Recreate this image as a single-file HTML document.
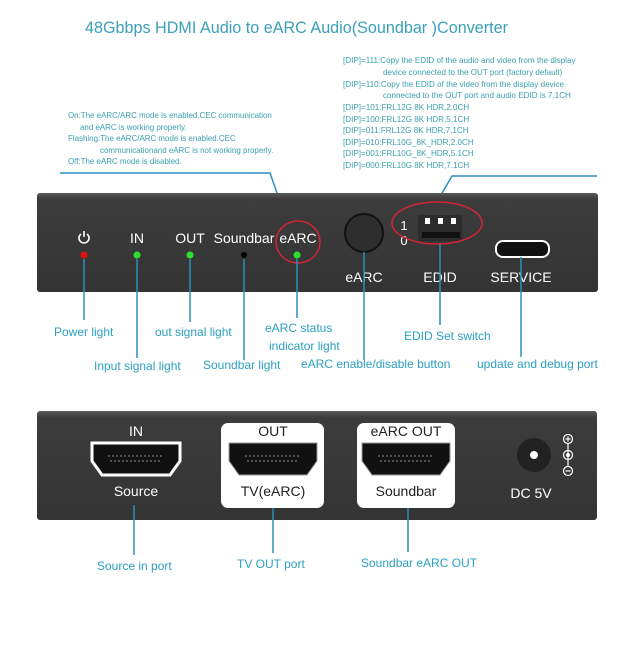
<!DOCTYPE html>
<html><head><meta charset="utf-8"><style>
html,body{margin:0;padding:0;background:#fff}
svg{display:block}
text{font-family:"Liberation Sans",sans-serif}
</style></head><body>
<svg width="640" height="653" viewBox="0 0 640 653" xmlns="http://www.w3.org/2000/svg">
<defs>
<linearGradient id="pg" x1="0" y1="0" x2="0" y2="1"><stop offset="0" stop-color="#5a5a5a"/><stop offset="0.06" stop-color="#3c3c3c"/><stop offset="1" stop-color="#343434"/></linearGradient>
<g id="hdmi"><path d="M-44,-16 H44 V2 L34,16 H-34 L-44,2 Z" fill="#111" stroke="#fff" stroke-width="3"/><line x1="-28" y1="-3" x2="28" y2="-3" stroke="#777" stroke-width="1.2" stroke-dasharray="2,2"/><line x1="-26" y1="2" x2="26" y2="2" stroke="#777" stroke-width="1.2" stroke-dasharray="2,2"/></g>
<g id="hdmi2"><path d="M-44,-16 H44 V2 L34,16 H-34 L-44,2 Z" fill="#111" stroke="#999" stroke-width="1"/><line x1="-28" y1="-3" x2="28" y2="-3" stroke="#777" stroke-width="1.2" stroke-dasharray="2,2"/><line x1="-26" y1="2" x2="26" y2="2" stroke="#777" stroke-width="1.2" stroke-dasharray="2,2"/></g>
</defs>
<text x="85" y="33" font-size="17" fill="#3a9fb8" textLength="423" lengthAdjust="spacingAndGlyphs">48Gbbps HDMI Audio to eARC Audio(Soundbar )Converter</text>
<g font-size="8.1" fill="#3aa0b0">
<text x="343" y="63">[DIP]=111:Copy the EDID of the audio and video from the display</text>
<text x="383" y="75">device connected to the OUT port (factory default)</text>
<text x="343" y="87">[DIP]=110:Copy the EDID of the video from the display device</text>
<text x="383" y="98">connected to the OUT port and audio EDID is 7.1CH</text>
<text x="343" y="110">[DIP]=101:FRL12G 8K HDR,2.0CH</text>
<text x="343" y="122">[DIP]=100:FRL12G 8K HDR,5.1CH</text>
<text x="343" y="133">[DIP]=011:FRL12G 8K HDR,7.1CH</text>
<text x="343" y="145">[DIP]=010:FRL10G_8K_HDR,2.0CH</text>
<text x="343" y="156">[DIP]=001:FRL10G_8K_HDR,5.1CH</text>
<text x="343" y="168">[DIP]=000:FRL10G 8K HDR,7.1CH</text>
</g>
<g font-size="7.95" fill="#3aa0b0">
<text x="68" y="118">On:The eARC/ARC mode is enabled.CEC communication</text>
<text x="80" y="130">and eARC is working properly.</text>
<text x="68" y="141">Flashing:The eARC/ARC mode is enabled.CEC</text>
<text x="100" y="153">communicationand eARC is not working properly.</text>
<text x="68" y="164">Off:The eARC mode is disabled.</text>
</g>
<g stroke="#2a8fbf" stroke-width="1.5" fill="none">
<polyline points="60,173 270,173 290,230"/>
<polyline points="597,176 452,176 435,205"/>
</g>
<rect x="37" y="193" width="561" height="99" rx="3" fill="url(#pg)"/>
<g font-size="14" fill="#fff" text-anchor="middle">
<text x="137" y="243">IN</text><text x="190" y="243">OUT</text><text x="244" y="243">Soundbar</text><text x="298" y="243">eARC</text>
<text x="364" y="282">eARC</text><text x="440" y="282">EDID</text><text x="521" y="282">SERVICE</text>
<text x="404" y="230" font-size="13">1</text><text x="404" y="245" font-size="13">0</text>
</g>
<g stroke="#fff" stroke-width="1.6" fill="none"><path d="M81,234 A5,5 0 1 0 87,234"/><line x1="84" y1="231" x2="84" y2="237"/></g>
<circle cx="84" cy="255" r="3.5" fill="#e01010"/>
<circle cx="137" cy="255" r="3.5" fill="#2ee02e"/>
<circle cx="190" cy="255" r="3.5" fill="#2ee02e"/>
<circle cx="244" cy="255" r="3" fill="#000"/>
<circle cx="297" cy="255" r="3.5" fill="#2ee02e"/>
<ellipse cx="298" cy="242" rx="22" ry="21" fill="none" stroke="#d0253a" stroke-width="1.5"/>
<circle cx="364" cy="233" r="19" fill="#2e2e2e" stroke="#111" stroke-width="2"/>
<rect x="418" y="215" width="44" height="26" fill="#2c2c2c"/>
<rect x="425" y="218" width="5" height="6" fill="#fff"/><rect x="438" y="218" width="5" height="6" fill="#fff"/><rect x="451" y="218" width="5" height="6" fill="#fff"/>
<rect x="422" y="232" width="38" height="6" fill="#111"/>
<ellipse cx="437" cy="223" rx="45" ry="21" fill="none" stroke="#d0253a" stroke-width="1.5"/>
<rect x="496" y="241" width="53" height="16" rx="7" fill="#111" stroke="#fff" stroke-width="2"/>
<g stroke="#2a8fbf" stroke-width="1.5">
<line x1="84" y1="259" x2="84" y2="320"/><line x1="137" y1="259" x2="137" y2="358"/>
<line x1="190" y1="259" x2="190" y2="322"/><line x1="244" y1="259" x2="244" y2="360"/>
<line x1="297" y1="259" x2="297" y2="318"/><line x1="364" y1="252" x2="364" y2="360"/>
<line x1="440" y1="244" x2="440" y2="325"/><line x1="521" y1="257" x2="521" y2="357"/>
</g>
<g font-size="12" fill="#2a9fc0">
<text x="54" y="336">Power light</text><text x="94" y="370">Input signal light</text>
<text x="155" y="336">out signal light</text><text x="203" y="369">Soundbar light</text>
<text x="265" y="332">eARC status</text><text x="269" y="350">indicator light</text>
<text x="301" y="368">eARC enable/disable button</text><text x="404" y="340">EDID Set switch</text>
<text x="477" y="368">update and debug port</text>
</g>
<rect x="37" y="411" width="560" height="109" rx="3" fill="url(#pg)"/>
<rect x="221" y="423" width="103" height="85" rx="7" fill="#fff"/>
<rect x="357" y="423" width="98" height="85" rx="7" fill="#fff"/>
<use href="#hdmi" x="136" y="459"/>
<use href="#hdmi2" x="273" y="459"/>
<use href="#hdmi2" x="406" y="459"/>
<g font-size="14" text-anchor="middle">
<text x="136" y="436" fill="#fff">IN</text><text x="136" y="496" fill="#fff">Source</text>
<text x="273" y="436" fill="#222">OUT</text><text x="273" y="496" fill="#222">TV(eARC)</text>
<text x="406" y="436" fill="#222">eARC OUT</text><text x="406" y="496" fill="#222">Soundbar</text>
<text x="531" y="498" fill="#fff">DC 5V</text>
</g>
<circle cx="534" cy="455" r="17" fill="#222"/><circle cx="534" cy="455" r="4" fill="#fff"/>
<g stroke="#fff" stroke-width="1.2" fill="none">
<circle cx="568" cy="439" r="4.5"/><circle cx="568" cy="455" r="4.5"/><circle cx="568" cy="471" r="4.5"/>
<line x1="565.5" y1="439" x2="570.5" y2="439"/><line x1="568" y1="436.5" x2="568" y2="441.5"/><line x1="565.5" y1="471" x2="570.5" y2="471"/>
<line x1="568" y1="443.5" x2="568" y2="466.5"/>
</g>
<circle cx="568" cy="455" r="2" fill="#fff"/>
<g stroke="#2a8fbf" stroke-width="1.5">
<line x1="134" y1="505" x2="134" y2="555"/><line x1="273" y1="508" x2="273" y2="553"/><line x1="408" y1="508" x2="408" y2="552"/>
</g>
<g font-size="12" fill="#2a9fc0">
<text x="97" y="570">Source in port</text><text x="237" y="568">TV OUT port</text><text x="361" y="567">Soundbar eARC OUT</text>
</g>
</svg>
</body></html>
